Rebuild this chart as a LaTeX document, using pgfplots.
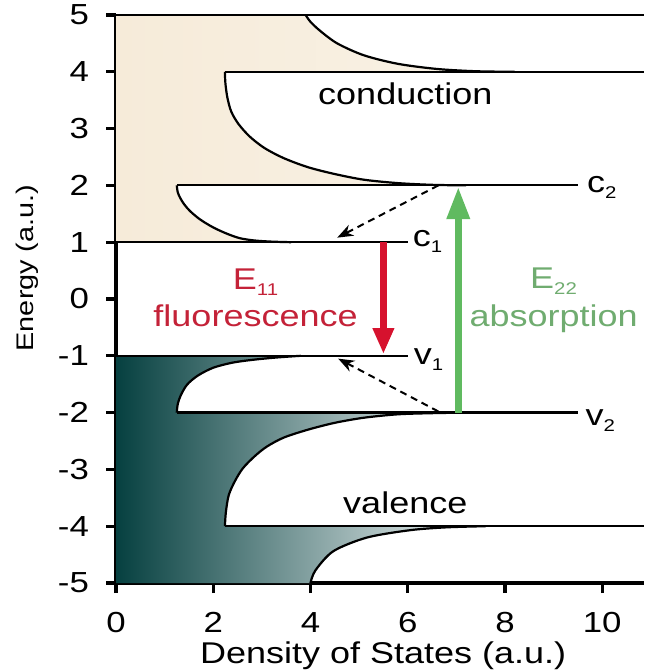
\documentclass[border=0pt]{standalone}
\usepackage{fontspec}
\setmainfont{Liberation Sans}[FakeStretch=1.2]
\usepackage{pgfplots}
\pgfplotsset{compat=1.18}
\usetikzlibrary{arrows.meta}

\definecolor{creamfill}{RGB}{246,235,217}
\definecolor{creamlight}{RGB}{249,242,230}
\definecolor{tealdark}{RGB}{6,64,64}
\definecolor{tealmid}{RGB}{78,122,122}
\definecolor{teallight}{RGB}{246,249,249}
\definecolor{emred}{RGB}{214,18,46}
\definecolor{emredtext}{RGB}{196,34,56}
\definecolor{absgreen}{RGB}{96,186,96}
\definecolor{absgreentext}{RGB}{112,172,112}

\newcommand{\lab}{\fontsize{15}{18}\selectfont}
\newcommand{\sub}[1]{\raisebox{-3pt}{\fontsize{8.5}{10}\selectfont #1}}

\begin{document}
\begin{tikzpicture}
\begin{axis}[
  name=ax,
  scale only axis,
  width=264pt, height=284pt,
  xmin=0, xmax=10.86, ymin=-5, ymax=5,
  clip=false,
  axis x line*=bottom, axis y line*=left,
  axis line style={line width=1.6pt, black},
  tick align=outside,
  major tick length=5pt,
  tick style={line width=1.6pt, black},
  xtick={0,2,4,6,8,10},
  ytick={-5,-4,-3,-2,-1,0,1,2,3,4,5},
  /pgf/number format/assume math mode=true,
  ticklabel style={font=\fontsize{14.5}{17}\selectfont},
  xticklabel style={yshift=-6pt},
  yticklabel style={xshift=-5pt},
  xlabel={Density of States (a.u.)},
  xlabel style={font=\lab, at={(axis description cs:0.506,0)}, anchor=center, yshift=-36.5pt},
]

% conduction band density of states (filled)
\addplot[draw=none, left color=creamfill, right color=creamlight] coordinates {
  (0,1) (3.6,1.0) (3.2,1.01) (2.85,1.03) (2.55,1.07) (2.28,1.15) (2.00,1.26)
  (1.73,1.40) (1.52,1.55) (1.40,1.67) (1.32,1.78) (1.27,1.88) (1.25,2.00)
  (7.2,2.0) (6.5,2.01) (5.8,2.04) (5.1,2.10) (4.5,2.20) (3.95,2.32) (3.45,2.48)
  (3.05,2.66) (2.75,2.86) (2.52,3.08) (2.37,3.30) (2.29,3.55) (2.25,3.80) (2.24,4.00)
  (8.2,4.0) (7.4,4.01) (6.6,4.05) (5.8,4.14) (5.1,4.29) (4.55,4.50) (4.2,4.72)
  (4.0,4.88) (3.9,5.0) (0,5)
} -- cycle;

% valence band density of states (filled)
\addplot[draw=none, left color=tealdark, middle color=tealmid, right color=teallight] coordinates {
  (0,-1) (3.8,-1.0) (3.3,-1.03) (2.82,-1.07) (2.40,-1.12) (2.00,-1.21) (1.68,-1.35)
  (1.46,-1.51) (1.33,-1.70) (1.27,-1.85) (1.25,-2.00)
  (7.2,-2.0) (6.5,-2.01) (5.8,-2.03) (5.1,-2.09) (4.5,-2.18) (3.95,-2.30) (3.45,-2.44)
  (3.1,-2.60) (2.85,-2.77) (2.61,-2.98) (2.45,-3.20) (2.32,-3.45) (2.26,-3.75) (2.24,-4.00)
  (7.6,-4.0) (6.8,-4.02) (6.05,-4.07) (5.16,-4.20) (4.47,-4.44) (4.1,-4.78) (4.0,-5.0) (0,-5)
} -- cycle;

% band edges (van Hove singularities)
\addplot[black, line width=1.1pt] coordinates {(0,1) (6.0,1)};
\addplot[black, line width=1.1pt] coordinates {(1.25,2) (9.5,2)};
\addplot[black, line width=1.1pt] coordinates {(2.24,4) (10.86,4)};
\addplot[black, line width=1.1pt] coordinates {(0,5) (10.86,5)};
\addplot[black, line width=1.1pt] coordinates {(0,-1) (6.0,-1)};
\addplot[black, line width=1.1pt] coordinates {(1.25,-2) (9.5,-2)};
\addplot[black, line width=1.1pt] coordinates {(2.24,-4) (10.86,-4)};

% band tails
\addplot[black, line width=1.1pt, smooth] coordinates {
  (1.25,2.00) (1.27,1.88) (1.32,1.78) (1.40,1.67) (1.52,1.55) (1.73,1.40)
  (2.00,1.26) (2.28,1.15) (2.55,1.07) (2.85,1.03) (3.2,1.01) (3.6,1.0)};
\addplot[black, line width=1.1pt, smooth] coordinates {
  (2.24,4.00) (2.25,3.80) (2.29,3.55) (2.37,3.30) (2.52,3.08) (2.75,2.86)
  (3.05,2.66) (3.45,2.48) (3.95,2.32) (4.5,2.20) (5.1,2.10) (5.8,2.04) (6.5,2.01) (7.2,2.0)};
\addplot[black, line width=1.1pt, smooth] coordinates {
  (3.9,5.0) (4.0,4.88) (4.2,4.72) (4.55,4.50) (5.1,4.29) (5.8,4.14) (6.6,4.05) (7.4,4.01) (8.2,4.0)};
\addplot[black, line width=1.1pt, smooth] coordinates {
  (1.25,-2.00) (1.27,-1.85) (1.33,-1.70) (1.46,-1.51) (1.68,-1.35) (2.00,-1.21)
  (2.40,-1.12) (2.82,-1.07) (3.3,-1.03) (3.8,-1.0)};
\addplot[black, line width=1.1pt, smooth] coordinates {
  (2.24,-4.00) (2.26,-3.75) (2.32,-3.45) (2.45,-3.20) (2.61,-2.98) (2.85,-2.77)
  (3.1,-2.60) (3.45,-2.44) (3.95,-2.30) (4.5,-2.18) (5.1,-2.09) (5.8,-2.03) (6.5,-2.01) (7.2,-2.0)};
\addplot[black, line width=1.1pt, smooth] coordinates {
  (4.0,-5.0) (4.1,-4.78) (4.47,-4.44) (5.16,-4.20) (6.05,-4.07) (6.8,-4.02) (7.6,-4.0)};

% relaxation
\addplot[black, line width=1pt, dash pattern=on 3.5pt off 2.5pt, -{Stealth[length=8pt,width=6pt]}]
  coordinates {(6.63,2.0) (4.55,1.08)};
\addplot[black, line width=1pt, dash pattern=on 3.5pt off 2.5pt, -{Stealth[length=8pt,width=6pt]}]
  coordinates {(6.63,-1.98) (4.57,-1.05)};

% optical transitions
\addplot[emred, line width=3.3pt, -{Triangle[length=13pt,width=10pt]}]
  coordinates {(5.5,1.0) (5.5,-0.97)};
\addplot[absgreen, line width=3.3pt, -{Triangle[length=16pt,width=11pt]}]
  coordinates {(7.04,-2.0) (7.04,1.97)};

% labels
\node[font=\lab, anchor=base] at (axis cs:5.95,3.42) {conduction};
\node[font=\lab, anchor=base] at (axis cs:5.95,-3.77) {valence};
\node[font=\lab, anchor=base west, inner sep=0pt] at (axis cs:6.10,0.92) {c\sub{1}};
\node[font=\lab, anchor=base west, inner sep=0pt] at (axis cs:9.68,1.87) {c\sub{2}};
\node[font=\lab, anchor=base west, inner sep=0pt] at (axis cs:6.12,-1.16) {v\sub{1}};
\node[font=\lab, anchor=base west, inner sep=0pt] at (axis cs:9.65,-2.22) {v\sub{2}};
\node[font=\lab, text=emredtext, anchor=base] at (axis cs:2.87,0.16) {E\sub{11}};
\node[font=\lab, text=emredtext, anchor=base] at (axis cs:2.87,-0.48) {fluorescence};
\node[font=\lab, text=absgreentext, anchor=base] at (axis cs:9.0,0.19) {E\sub{22}};
\node[font=\lab, text=absgreentext, anchor=base] at (axis cs:9.0,-0.48) {absorption};
\end{axis}
\node[rotate=90, anchor=center, inner sep=0pt, font=\fontsize{12}{14}\selectfont]
  at ([xshift=-44.5pt,yshift=15.5pt]ax.west) {Energy (a.u.)};
\pgfresetboundingbox
\path ([xshift=-58pt,yshift=-44.5pt]ax.south west) rectangle ([yshift=7.5pt]ax.north east);
\end{tikzpicture}
\end{document}
